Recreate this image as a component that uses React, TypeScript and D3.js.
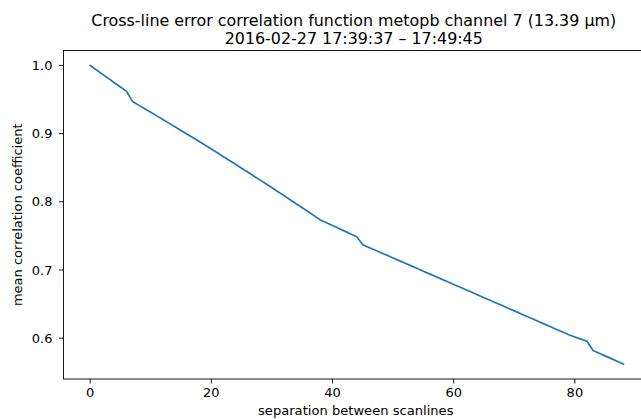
import React from "react";
import * as d3 from "d3";

const separation: number[] = Array.from({ length: 89 }, (_, i) => i);
const correlation: number[] = [
  1.0, 0.9937, 0.9873, 0.981, 0.9747, 0.9683, 0.962, 0.947, 0.9418, 0.9366,
  0.9313, 0.926, 0.9207, 0.9154, 0.91, 0.9046, 0.8992, 0.8938, 0.8883, 0.8828,
  0.8773, 0.8718, 0.8662, 0.8606, 0.855, 0.8493, 0.8436, 0.8379, 0.8322, 0.8264,
  0.8206, 0.8148, 0.809, 0.8031, 0.7972, 0.7913, 0.7854, 0.7794, 0.7734, 0.7693,
  0.7652, 0.7611, 0.757, 0.7529, 0.7488, 0.737, 0.7331, 0.7292, 0.7254, 0.7215,
  0.7176, 0.7137, 0.7098, 0.706, 0.7021, 0.6982, 0.6943, 0.6904, 0.6866, 0.6827,
  0.6788, 0.6749, 0.671, 0.6672, 0.6633, 0.6594, 0.6555, 0.6516, 0.6478, 0.6439,
  0.64, 0.6361, 0.6322, 0.6284, 0.6245, 0.6206, 0.6167, 0.6128, 0.609, 0.6051,
  0.6018, 0.5986, 0.5955, 0.582, 0.578, 0.574, 0.57, 0.566, 0.562,
];
const xTicks: number[] = [0, 20, 40, 60, 80];
const yTicks: number[] = [0.6, 0.7, 0.8, 0.9, 1.0];
const titleLines: string[] = [
  "Cross-line error correlation function metopb channel 7 (13.39 μm)",
  "2016-02-27 17:39:37 – 17:49:45",
];
const xLabel = "separation between scanlines";
const yLabel = "mean correlation coefficient";

const W = 641;
const H = 419;
const plot = { left: 63.5, top: 50.5, right: 650, bottom: 379 };
const FONT = "DejaVu Sans, sans-serif";

export default function App() {
  const xmin = d3.min(separation)!;
  const xmax = d3.max(separation)!;
  const ymin = d3.min(correlation)!;
  const ymax = d3.max(correlation)!;
  const xm = (xmax - xmin) * 0.05;
  const ym = (ymax - ymin) * 0.05;
  const x = d3.scaleLinear().domain([xmin - xm, xmax + xm]).range([plot.left, plot.right]);
  const y = d3.scaleLinear().domain([ymin - ym, ymax + ym]).range([plot.bottom, plot.top]);
  const pts: [number, number][] = separation.map((s, i) => [s, correlation[i]]);
  const line = d3
    .line<[number, number]>()
    .x((d) => x(d[0]))
    .y((d) => y(d[1]));
  const cx = (plot.left + plot.right) / 2;
  const cy = (plot.top + plot.bottom) / 2;
  return (
    <svg
      width={W}
      height={H}
      style={{ position: "absolute", left: 0, top: 0, display: "block", background: "#fff" }}
      fontFamily={FONT}
    >
      <rect x={0} y={0} width={W} height={H} fill="#fff" />
      <path d={line(pts) || ""} fill="none" stroke="#1f77b4" strokeWidth={1.7} strokeLinejoin="round" strokeLinecap="square" />
      <rect
        x={plot.left}
        y={plot.top}
        width={plot.right - plot.left}
        height={plot.bottom - plot.top}
        fill="none"
        stroke="#000"
        strokeWidth={0.9}
      />
      {xTicks.map((t) => (
        <g key={"x" + t} transform={`translate(${x(t)},${plot.bottom})`}>
          <line y1={0} y2={4.5} stroke="#000" strokeWidth={0.9} />
          <text y={18} textAnchor="middle" fontSize={13} fill="#000">
            {t}
          </text>
        </g>
      ))}
      {yTicks.map((t) => (
        <g key={"y" + t} transform={`translate(${plot.left},${y(t)})`}>
          <line x1={0} x2={-4.5} stroke="#000" strokeWidth={0.9} />
          <text x={-11} dy="0.36em" textAnchor="end" fontSize={13} fill="#000">
            {t.toFixed(1)}
          </text>
        </g>
      ))}
      <text x={cx - 1} y={415} textAnchor="middle" fontSize={13.1} fill="#000">
        {xLabel}
      </text>
      <text
        transform={`translate(22,${cy}) rotate(-90)`}
        textAnchor="middle"
        fontSize={13}
        fill="#000"
      >
        {yLabel}
      </text>
      {titleLines.map((l, i) => (
        <text key={i} x={cx - 3} y={26 + i * 18} textAnchor="middle" fontSize={15.9} fill="#000">
          {l}
        </text>
      ))}
    </svg>
  );
}
